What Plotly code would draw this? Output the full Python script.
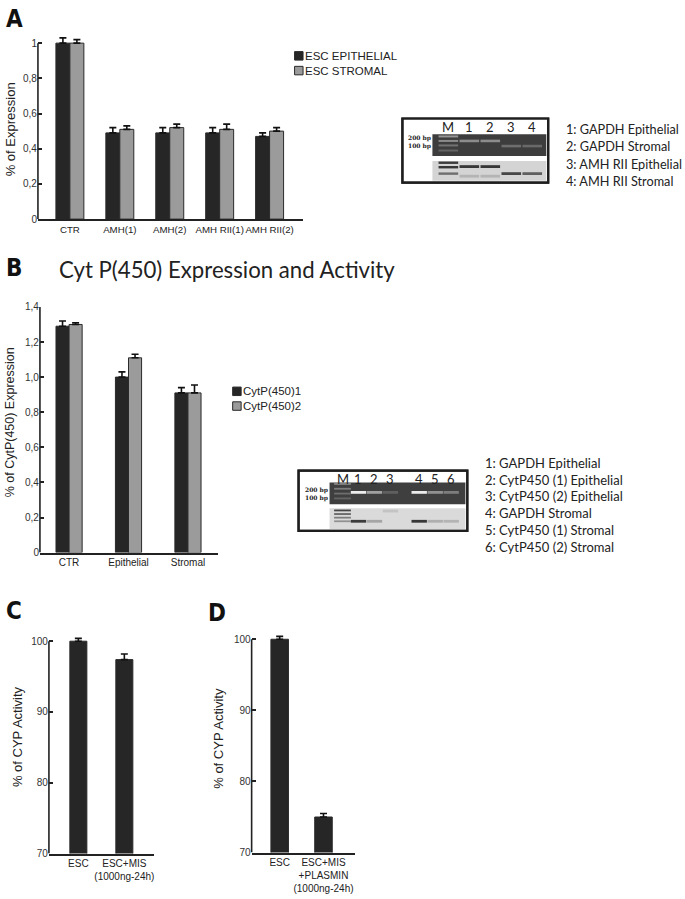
import plotly.graph_objects as go

W, H = 685, 899

# ---------------- Panel A data ----------------
a_categories = ["CTR", "AMH(1)", "AMH(2)", "AMH RII(1)", "AMH RII(2)"]
a_epithelial = [1.00, 0.49, 0.49, 0.49, 0.47]
a_epithelial_err = [0.03, 0.03, 0.03, 0.03, 0.02]
a_stromal = [1.00, 0.51, 0.52, 0.51, 0.50]
a_stromal_err = [0.02, 0.02, 0.02, 0.03, 0.02]
a_tickvals = [0, 0.2, 0.4, 0.6, 0.8, 1.0]
a_ticktext = ["0", "0,2", "0,4", "0,6", "0,8", "1"]
a_series_names = ["ESC EPITHELIAL", "ESC STROMAL"]

# ---------------- Panel B data ----------------
b_categories = ["CTR", "Epithelial", "Stromal"]
b_cyp1 = [1.29, 1.00, 0.91]
b_cyp1_err = [0.03, 0.03, 0.03]
b_cyp2 = [1.30, 1.11, 0.91]
b_cyp2_err = [0.01, 0.02, 0.045]
b_tickvals = [0, 0.2, 0.4, 0.6, 0.8, 1.0, 1.2, 1.4]
b_ticktext = ["0", "0,2", "0,4", "0,6", "0,8", "1,0", "1,2", "1,4"]
b_series_names = ["CytP(450)1", "CytP(450)2"]

# ---------------- Panels C / D data ----------------
c_categories = ["ESC", "ESC+MIS<br>(1000ng-24h)"]
c_values = [100.0, 97.4]
c_err = [0.4, 0.8]
d_categories = ["ESC", "ESC+MIS<br>+PLASMIN<br>(1000ng-24h)"]
d_values = [100.0, 75.0]
d_err = [0.4, 0.5]
cd_tickvals = [70, 80, 90, 100]

# ---------------- Gel data (lane labels, band levels) ----------------
gel_a_lanes = ["M", "1", "2", "3", "4"]
gel_a_legend = ["1: GAPDH Epithelial", "2: GAPDH Stromal",
                "3: AMH RII Epithelial", "4: AMH RII Stromal"]
gel_a_top_lane = [1, 2, 3, 4]
gel_a_top_y = [0.65, 0.65, 0.57, 0.57]
gel_a_top_level = [140, 140, 110, 105]
gel_a_bot_lane = [1, 2, 3, 4, 1, 2]
gel_a_bot_y = [0.25, 0.25, 0.14, 0.14, 0.10, 0.10]
gel_a_bot_level = [55, 55, 70, 95, 180, 180]
gel_a_ladder_top_y = [0.72, 0.65, 0.58, 0.50]
gel_a_ladder_top_level = [150, 140, 115, 100]
gel_a_ladder_bot_y = [0.31, 0.24, 0.14]
gel_a_ladder_bot_level = [60, 55, 110]

gel_b_lanes = ["M", "1", "2", "3", "4", "5", "6"]
gel_b_lane_pos = [0, 1, 2, 3, 4.8, 5.8, 6.8]
gel_b_legend = ["1: GAPDH Epithelial", "2: CytP450 (1) Epithelial",
                "3: CytP450 (2) Epithelial", "4: GAPDH Stromal",
                "5: CytP450 (1) Stromal", "6: CytP450 (2) Stromal"]
gel_b_top_y = [0.64, 0.64, 0.64, 0.64, 0.64, 0.64]
gel_b_top_level = [235, 160, 95, 235, 145, 125]
gel_b_bot_y = [0.16, 0.16, 0.33, 0.16, 0.16, 0.16]
gel_b_bot_level = [60, 165, 195, 55, 175, 180]
gel_b_ladder_top_y = [0.78, 0.70, 0.62, 0.54]
gel_b_ladder_top_level = [135, 125, 110, 100]
gel_b_ladder_bot_y = [0.34, 0.28, 0.22, 0.16]
gel_b_ladder_bot_level = [70, 100, 125, 145]

BLACK = "#262626"
GRAY = "#9b9b9b"
EDGE = "#2a2a2a"
ARIAL = "Liberation Sans, Arial, sans-serif"
MYRIAD = "Lato, Open Sans, sans-serif"
LETTER = "Liberation Sans Narrow, DejaVu Sans Condensed, Arial Narrow, sans-serif"


def px(x):
    return x / W


def py(y):
    return 1 - y / H


def g(v):
    return f"rgb({v},{v},{v})"


fig = go.Figure()


def add_bar(xs, ys, err, color, xa, ya, offset, width):
    fig.add_trace(go.Bar(
        x=xs, y=ys, xaxis=xa, yaxis=ya, offset=offset, width=width,
        marker=dict(color=color, line=dict(color=EDGE, width=1)),
        error_y=dict(type="data", array=err, arrayminus=[0] * len(err),
                     symmetric=False, color="#111", thickness=1.6, width=3.5),
        showlegend=False, hoverinfo="skip"))


# A
add_bar(a_categories, a_epithelial, a_epithelial_err, BLACK, "x", "y", -0.28, 0.28)
add_bar(a_categories, a_stromal, a_stromal_err, GRAY, "x", "y", 0.0, 0.28)
# B
add_bar(b_categories, b_cyp1, b_cyp1_err, BLACK, "x2", "y2", -0.22, 0.22)
add_bar(b_categories, b_cyp2, b_cyp2_err, GRAY, "x2", "y2", 0.0, 0.22)
# C
add_bar(c_categories, c_values, c_err, BLACK, "x3", "y3", -0.185, 0.37)
# D
add_bar(d_categories, d_values, d_err, BLACK, "x4", "y4", -0.2, 0.4)


def add_bands(xs, ys, levels, xa, ya, size=13, thick=3.2):
    fig.add_trace(go.Scatter(
        x=xs, y=ys, xaxis=xa, yaxis=ya, mode="markers",
        marker=dict(symbol="line-ew", size=size,
                    line=dict(width=thick, color=[g(v) for v in levels])),
        showlegend=False, hoverinfo="skip", cliponaxis=False))


# gel A bands
add_bands(gel_a_top_lane, gel_a_top_y, gel_a_top_level, "x5", "y5", size=14, thick=2.6)
add_bands(gel_a_bot_lane, gel_a_bot_y, gel_a_bot_level, "x5", "y5", size=14, thick=2.8)
add_bands([0] * len(gel_a_ladder_top_y), gel_a_ladder_top_y, gel_a_ladder_top_level, "x5", "y5", size=14, thick=2)
add_bands([0] * len(gel_a_ladder_bot_y), gel_a_ladder_bot_y, gel_a_ladder_bot_level, "x5", "y5", size=14, thick=2.4)
# gel B bands
add_bands(gel_b_lane_pos[1:], gel_b_top_y, gel_b_top_level, "x6", "y6", size=11, thick=2.8)
add_bands(gel_b_lane_pos[1:], gel_b_bot_y, gel_b_bot_level, "x6", "y6", size=11, thick=2.8)
add_bands([0] * len(gel_b_ladder_top_y), gel_b_ladder_top_y, gel_b_ladder_top_level, "x6", "y6", size=12, thick=1.8)
add_bands([0] * len(gel_b_ladder_bot_y), gel_b_ladder_bot_y, gel_b_ladder_bot_level, "x6", "y6", size=12, thick=1.8)


def xax(domain, rng, fs=10, **kw):
    d = dict(domain=domain, range=rng, showline=True, linecolor="#222", linewidth=1.6,
             ticks="", showgrid=False, zeroline=False, fixedrange=True, tickangle=0,
             tickfont=dict(family=ARIAL, size=fs, color="#222"))
    d.update(kw)
    return d


def yax(domain, rng, tickvals, ticktext, anchor, **kw):
    d = dict(domain=domain, range=rng, showline=False, ticks="inside", ticklen=4,
             tickwidth=1.5, tickcolor="#222", tickvals=tickvals, ticktext=ticktext,
             showgrid=False, zeroline=False, fixedrange=True, anchor=anchor,
             tickfont=dict(family=ARIAL, size=10, color="#333"))
    d.update(kw)
    return d


hidden = dict(visible=False, fixedrange=True, showgrid=False, zeroline=False)

fig.update_layout(
    width=W, height=H, margin=dict(l=0, r=0, t=0, b=0),
    paper_bgcolor="white", plot_bgcolor="rgba(0,0,0,0)",
    barmode="overlay", showlegend=False,
    xaxis=xax([px(38), px(303)], [-0.64, 4.66], fs=9.7, anchor="y"),
    yaxis=yax([py(216), py(30.5)], [0, 1.04], a_tickvals, a_ticktext, "x"),
    xaxis2=xax([px(40), px(218)], [-0.49, 2.5], anchor="y2"),
    yaxis2=yax([py(554), py(305)], [0, 1.4], b_tickvals, b_ticktext, "x2"),
    xaxis3=xax([px(49), px(154)], [-0.64, 1.64], anchor="y3"),
    yaxis3=yax([py(859), py(639.5)], [70, 100.6], cd_tickvals, [str(v) for v in cd_tickvals], "x3"),
    xaxis4=xax([px(252), px(356)], [-0.64, 1.73], anchor="y4"),
    yaxis4=yax([py(858), py(637.5)], [70, 100.6], cd_tickvals, [str(v) for v in cd_tickvals], "x4"),
    xaxis5=dict(domain=[px(403), px(549)], range=[-2.19, 4.76], anchor="y5", **hidden),
    yaxis5=dict(domain=[py(179), py(114)], range=[0, 1], anchor="x5", **hidden),
    xaxis6=dict(domain=[px(299), px(468)], range=[-2.75, 7.81], anchor="y6", **hidden),
    yaxis6=dict(domain=[py(532), py(471)], range=[0, 1], anchor="x6", **hidden),
)

shapes = []
# y-axis lines drawn from 0 to top tick
for xa, ya, y0, y1 in [("x", "y", 0, 1.0), ("x2", "y2", 0, 1.4), ("x3", "y3", 70, 100), ("x4", "y4", 70, 100)]:
    shapes.append(dict(type="line", xref=f"{xa} domain", yref=ya, x0=0, x1=0, y0=y0, y1=y1,
                       line=dict(color="#222", width=1.6), layer="above"))

# gel frames and panels
for xa, ya, dark, light, x_left, x_right, dark_y, light_y in [
    ("x5", "y5", "#3d3d3d", "#d4d4d4", -0.76, 4.67, (0.415, 0.754), (0.03, 0.338)),
    ("x6", "y6", "#3f3f3f", "#dadada", -0.81, 7.69, (0.443, 0.803), (0.033, 0.377)),
]:
    shapes.append(dict(type="rect", xref=f"{xa} domain", yref=f"{ya} domain", x0=0, x1=1, y0=0, y1=1,
                       fillcolor="white", line=dict(color="#1e1e1e", width=2.2), layer="below"))
    shapes.append(dict(type="rect", xref=xa, yref=f"{ya} domain", x0=x_left, x1=x_right,
                       y0=dark_y[0], y1=dark_y[1], fillcolor=dark, line=dict(width=0), layer="below"))
    shapes.append(dict(type="rect", xref=xa, yref=f"{ya} domain", x0=x_left, x1=x_right,
                       y0=light_y[0], y1=light_y[1], fillcolor=light, line=dict(width=0), layer="below"))
    shapes.append(dict(type="rect", xref=f"{xa} domain", yref=f"{ya} domain", x0=0, x1=1, y0=0, y1=1,
                       line=dict(color="#1e1e1e", width=2.2), layer="above"))

# legend swatches and texts (A and B): one text block per legend
LEG_FS = 11.5
LEG_DY = LEG_FS * 1.3
ann = []
for names, colors, x, yc in [(a_series_names, [BLACK, GRAY], 295, 58),
                             (b_series_names, [BLACK, GRAY], 233, 398)]:
    for i, c in enumerate(colors):
        y = yc + (i - 0.5) * LEG_DY
        shapes.append(dict(type="rect", xref="paper", yref="paper",
                           x0=px(x), x1=px(x + 8.5), y0=py(y + 4.3), y1=py(y - 4.3),
                           fillcolor=c, line=dict(color=EDGE, width=1)))
    ann.append(dict(text="<br>".join(names), x=px(x + 9), y=py(yc), xref="paper", yref="paper",
                    xanchor="left", yanchor="middle", align="left", showarrow=False, borderpad=0,
                    font=dict(family=ARIAL, size=LEG_FS, color="#222")))

fig.update_layout(shapes=shapes)

# panel letters
for letter, x, y in [("A", 4, 13), ("B", 4, 266), ("C", 4, 613), ("D", 206, 615)]:
    ann.append(dict(text=f"<b>{letter}</b>", x=px(x), y=py(y), xref="paper", yref="paper",
                    xanchor="left", yanchor="middle", showarrow=False,
                    font=dict(family=LETTER, size=24, color="#111")))

# B title
ann.append(dict(text="Cyt P(450) Expression and Activity", x=px(57), y=py(267), xref="paper", yref="paper",
                xanchor="left", yanchor="middle", showarrow=False,
                font=dict(family=MYRIAD, size=22.2, color="#222")))

# y-axis titles
for t, x, y, s in [("% of Expression", 10, 125, 13), ("% of CytP(450) Expression", 10, 422, 12.5),
                   ("% of CYP Activity", 17, 740, 13), ("% of CYP Activity", 218, 742, 13)]:
    ann.append(dict(text=t, x=px(x), y=py(y), xref="paper", yref="paper", textangle=-90,
                    xanchor="center", yanchor="middle", showarrow=False,
                    font=dict(family=ARIAL, size=s, color="#222")))

# gel lane labels and bp labels
for lanes, pos, xa, ya, ylab in [(gel_a_lanes, list(range(len(gel_a_lanes))), "x5", "y5", 0.865),
                                 (gel_b_lanes, gel_b_lane_pos, "x6", "y6", 0.87)]:
    for l, p in zip(lanes, pos):
        ann.append(dict(text=l, x=p, y=ylab, xref=xa, yref=f"{ya} domain", xanchor="center",
                        yanchor="middle", showarrow=False, borderpad=0,
                        font=dict(family=MYRIAD, size=13, color="#222")))
for xa, ya, yy in [("x5", "y5", (0.69, 0.57)), ("x6", "y6", (0.672, 0.541))]:
    for t, y in zip(["200 bp", "100 bp"], yy):
        ann.append(dict(text=f"<b>{t}</b>", x=0.03, y=y, xref=f"{xa} domain", yref=f"{ya} domain",
                        xanchor="left", yanchor="middle", showarrow=False, borderpad=0,
                        font=dict(family="DejaVu Serif, serif", size=6, color="#222")))

# gel legends
for lines, x, y0, dy, fs in [(gel_a_legend, 566, 125, 17.4, 12.7), (gel_b_legend, 485, 463, 17, 13)]:
    for i, t in enumerate(lines):
        ann.append(dict(text=t, x=px(x), y=py(y0 + i * dy), xref="paper", yref="paper",
                        xanchor="left", yanchor="middle", showarrow=False, borderpad=0,
                        font=dict(family=MYRIAD, size=fs, color="#222")))

fig.update_layout(annotations=ann)
fig.write_html("out.html", config={"displayModeBar": False},
               post_script="document.body.style.margin='0';document.body.style.padding='0';")
